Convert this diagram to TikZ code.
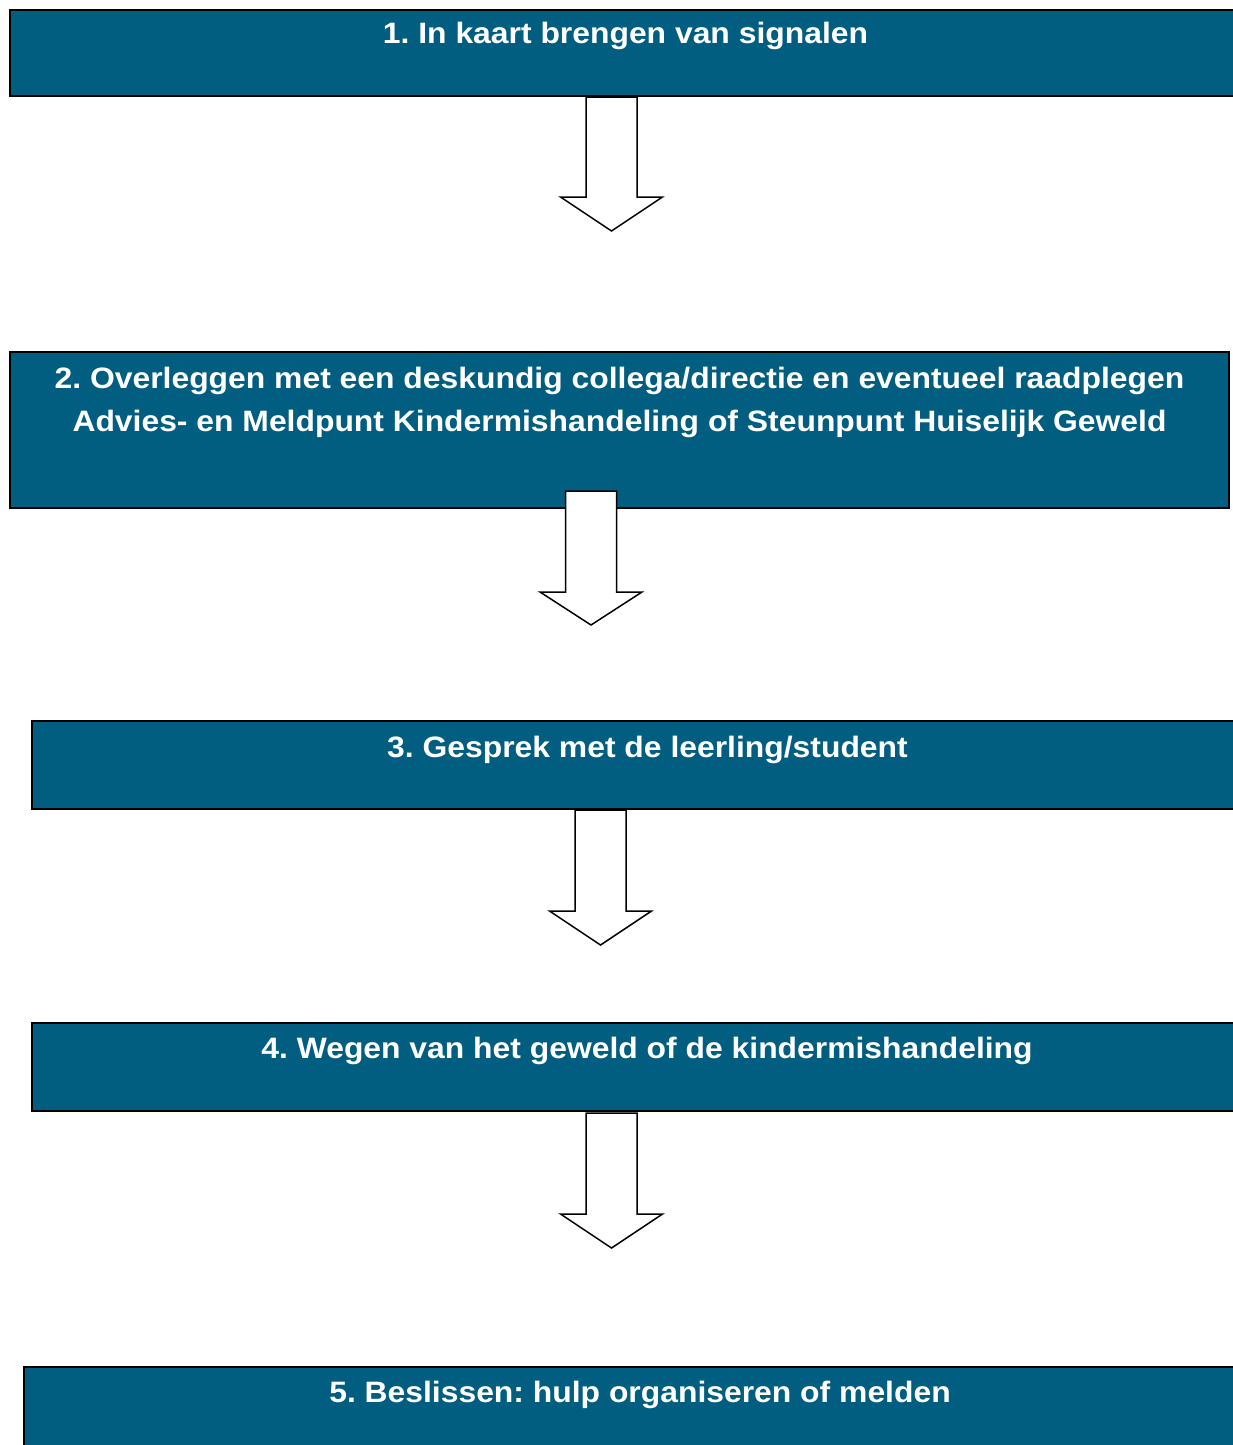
\documentclass[tikz,border=0pt]{standalone}
\usepackage{graphicx}
\usepackage{fontspec}
\setmainfont{Liberation Sans}
\frenchspacing
\definecolor{boxblue}{RGB}{2,94,128}
\newcommand\hstretch[1]{\scalebox{1.08}[1]{#1}}
\newcommand\blockarr[5]{% name, cx, top, shoulder, tip
  \coordinate (#1top) at (#2,#3);
  \coordinate (#1tip) at (#2,#5);
  \draw[blockarrow] (#2-25.5,#3) -- (#2+25.5,#3) -- (#2+25.5,#4) -- (#2+51,#4)
    -- (#1tip) -- (#2-51,#4) -- (#2-25.5,#4) -- cycle;}
\begin{document}
\begin{tikzpicture}[x=1pt,y=-1pt,
  stepbox/.style={draw=black, line width=2pt, fill=boxblue, rectangle,
    inner sep=0pt, outer sep=0pt, anchor=north west},
  steptext/.style={text=white, font=\fontsize{29.5}{43}\selectfont\bfseries,
    anchor=base, inner sep=0pt, align=center},
  blockarrow/.style={draw=black, fill=white, line width=1.5pt, line join=miter}]
\useasboundingbox (0,0) rectangle (1233,1445);
\clip (0,0) rectangle (1233,1445);
\node[stepbox, minimum width=1231pt, minimum height=86pt] (b1) at (10,10) {};
\node[steptext] (t1) at (625.5,44) {\hstretch{1. In kaart brengen van signalen}};
\node[stepbox, minimum width=1219pt, minimum height=156pt] (b2) at (10,352) {};
\node[steptext] (t2) at (619.5,431) {\hstretch{2. Overleggen met een deskundig collega/directie en eventueel raadplegen}\\\hstretch{Advies- en Meldpunt Kindermishandeling of Steunpunt Huiselijk Geweld}};
\node[stepbox, minimum width=1231pt, minimum height=88pt] (b3) at (32,721) {};
\node[steptext] (t3) at (647.5,757) {\hstretch{3. Gesprek met de leerling/student}};
\node[stepbox, minimum width=1231pt, minimum height=88pt] (b4) at (32,1023) {};
\node[steptext] (t4) at (647,1058) {\hstretch{4. Wegen van het geweld of de kindermishandeling}};
\node[stepbox, minimum width=1232pt, minimum height=88pt] (b5) at (24,1367) {};
\node[steptext] (t5) at (640,1402) {\hstretch{5. Beslissen: hulp organiseren of melden}};
\blockarr{a1}{611.5}{97}{197}{231}
\blockarr{a2}{591}{491}{592}{625}
\blockarr{a3}{600.5}{810}{911}{945}
\blockarr{a4}{611.5}{1113}{1214}{1248}
\end{tikzpicture}
\end{document}
